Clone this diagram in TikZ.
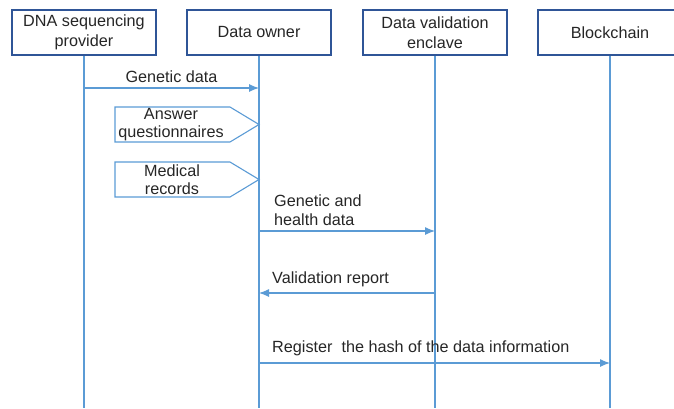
\documentclass[tikz,border=0pt]{standalone}
\usepackage{fontspec}
\setmainfont{Liberation Sans}
\usetikzlibrary{arrows.meta}

\definecolor{boxblue}{RGB}{47,85,151}
\definecolor{lineblue}{RGB}{91,155,213}
\definecolor{txtgray}{RGB}{38,38,38}

\tikzset{
  actor/.style={draw=boxblue, line width=1.6pt, minimum width=144pt, minimum height=45pt,
    align=center, inner sep=0pt},
  lifeline/.style={lineblue, line width=1.1pt},
  msg/.style={lineblue, line width=1.1pt, -{Latex[length=10pt,width=8pt]}},
  note/.style={draw=lineblue, line width=1.1pt},
  lbl/.style={inner sep=0pt, align=left, text=txtgray},
}

\begin{document}
\begin{tikzpicture}[x=1pt, y=-1pt, font=\fontsize{16.2}{19.5}\selectfont, text=txtgray]
        \def\yBot{408}
        \useasboundingbox (0,0) rectangle (674,408);
        \clip (0,0) rectangle (674,408);

        % participants
        \node[actor] (dna) at (84,32.5) {DNA sequencing\\provider};
        \node[actor] (own) at (259,32.5) {Data owner};
        \node[actor] (enc) at (435,32.5) {Data validation\\enclave};
        \node[actor] (bc)  at (610,32.5) {Blockchain};

        % lifelines
        \foreach \p in {dna,own,enc,bc}
            \draw[lifeline] (\p.south) -- (\p.south |- 0,\yBot);

        % points on the lifelines
        \coordinate (gd1) at (dna.south |- 0,88);
        \coordinate (gd2) at (own.south |- 0,88);
        \coordinate (hd1) at (own.south |- 0,231);
        \coordinate (hd2) at (enc.south |- 0,231);
        \coordinate (vr1) at (enc.south |- 0,293);
        \coordinate (vr2) at (own.south |- 0,293);
        \coordinate (rg1) at (own.south |- 0,363);
        \coordinate (rg2) at (bc.south |- 0,363);

        % inputs of the data owner
        \draw[note] (115,107) -- (230,107) -- (own.south |- 0,124.5) -- (230,142) -- (115,142) -- cycle;
        \node[align=center, font=\fontsize{16.2}{18}\selectfont] (ans) at (171,124.5) {Answer\\questionnaires};
        \draw[note] (115,162) -- (230,162) -- (own.south |- 0,179.5) -- (230,197) -- (115,197) -- cycle;
        \node[align=center, font=\fontsize{16.2}{18}\selectfont] (med) at (172,179.5) {Medical\\records};

        % messages
        \draw[msg] (gd1) -- (gd2) node[lbl, midway, above=5pt] (gdl) {Genetic data};
        \draw[msg] (hd1) -- (hd2);
        \node[lbl, anchor=north west] (hdl) at (274,194.5) {Genetic and\\health data};
        \draw[msg] (vr1) -- (vr2);
        \node[lbl, anchor=base west] (vrl) at (272,283) {Validation report};
        \draw[msg] (rg1) -- (rg2);
        \node[lbl, anchor=base west] (rgl) at (272,352) {Register\ \ the hash of the data information};

    \end{tikzpicture}
\end{document}
